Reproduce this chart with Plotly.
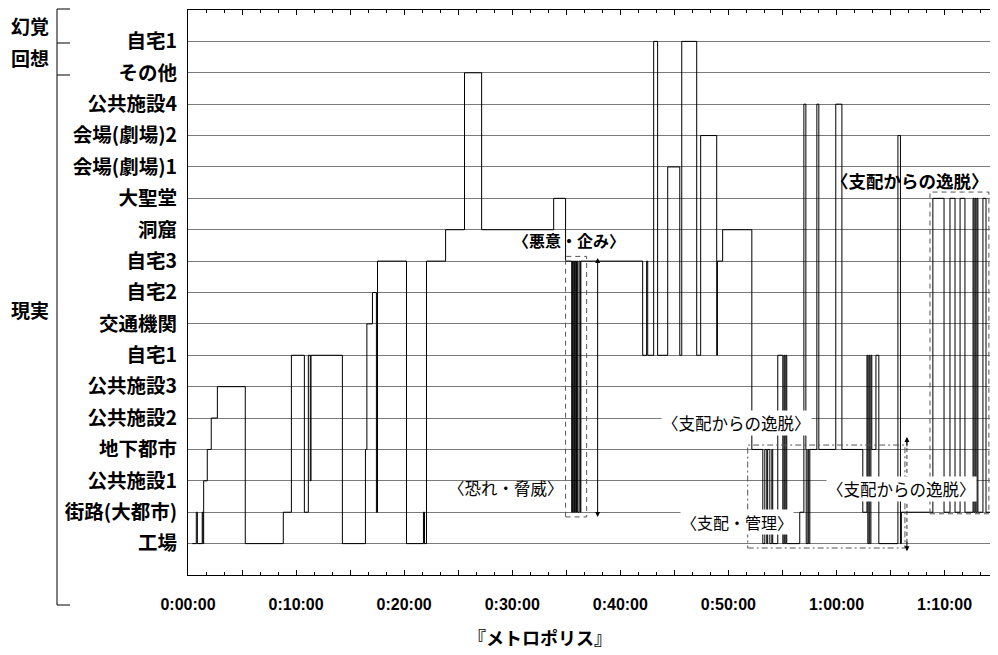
import plotly.graph_objects as go

# ---------------- data ----------------
categories = ["工場", "街路(大都市)", "公共施設1", "地下都市", "公共施設2", "公共施設3",
              "自宅1", "交通機関", "自宅2", "自宅3", "洞窟", "大聖堂",
              "会場(劇場)1", "会場(劇場)2", "公共施設4", "その他", "自宅1(回想)"]
category_labels = ["工場", "街路(大都市)", "公共施設1", "地下都市", "公共施設2", "公共施設3",
                   "自宅1", "交通機関", "自宅2", "自宅3", "洞窟", "大聖堂",
                   "会場(劇場)1", "会場(劇場)2", "公共施設4", "その他", "自宅1"]

scene_start = [
    "0:00:24", "0:00:46", "0:00:52", "0:01:19", "0:01:23", "0:01:27", "0:01:47", "0:02:09",
    "0:02:43", "0:05:18", "0:08:49", "0:09:34", "0:10:46", "0:11:08", "0:11:19", "0:11:23",
    "0:14:17", "0:16:25", "0:16:33", "0:17:04", "0:17:26", "0:17:32", "0:20:13", "0:21:47",
    "0:21:53", "0:22:04", "0:23:50", "0:25:35", "0:27:10", "0:33:50", "0:34:56",
    "0:35:30", "0:35:35", "0:35:41", "0:35:46", "0:35:52", "0:35:57", "0:36:03", "0:36:11",
    "0:36:18", "0:36:21",
    "0:42:04", "0:42:26", "0:42:32", "0:43:05", "0:43:27", "0:44:23", "0:45:30", "0:45:41",
    "0:47:04", "0:47:26", "0:48:55", "0:48:59", "0:49:28", "0:52:10",
    "0:53:11", "0:53:22", "0:53:33", "0:53:38", "0:53:50", "0:54:01", "0:54:06", "0:54:34",
    "0:55:02", "0:55:08", "0:55:13", "0:55:19", "0:55:24", "0:56:36", "0:56:59", "0:57:10",
    "0:57:12", "0:57:21", "0:57:26", "0:57:32", "0:58:11", "0:58:22", "0:59:56", "1:00:30",
    "1:02:26", "1:02:49", "1:02:54", "1:03:00", "1:03:05", "1:03:11", "1:03:16", "1:03:39",
    "1:03:55", "1:05:41", "1:05:55", "1:06:00", "1:08:55", "1:09:57", "1:10:30", "1:10:58",
    "1:11:26", "1:11:53", "1:12:38", "1:12:43", "1:12:49", "1:12:54", "1:13:00", "1:13:05",
    "1:13:33", "1:13:50",
]
scene_location = [
    "工場", "街路(大都市)", "工場", "街路(大都市)", "工場", "公共施設1", "地下都市", "公共施設2",
    "公共施設3", "工場", "街路(大都市)", "自宅1", "街路(大都市)", "自宅1", "公共施設1", "自宅1",
    "工場", "地下都市", "交通機関", "自宅2", "街路(大都市)", "自宅3", "工場", "街路(大都市)",
    "工場", "自宅3", "洞窟", "その他", "洞窟", "大聖堂", "自宅3",
    "街路(大都市)", "自宅3", "街路(大都市)", "自宅3", "街路(大都市)", "自宅3", "街路(大都市)", "自宅3",
    "街路(大都市)", "自宅3",
    "自宅1", "自宅3", "自宅1", "自宅1(回想)", "自宅1", "会場(劇場)1", "自宅1", "自宅1(回想)",
    "自宅1", "会場(劇場)2", "自宅1", "自宅3", "洞窟", "地下都市",
    "工場", "地下都市", "工場", "地下都市", "工場", "地下都市", "工場", "自宅1",
    "工場", "自宅1", "工場", "自宅1", "工場", "街路(大都市)", "公共施設4", "地下都市",
    "工場", "地下都市", "工場", "地下都市", "公共施設4", "地下都市", "公共施設4", "地下都市",
    "街路(大都市)", "自宅1", "工場", "自宅1", "工場", "自宅1", "地下都市", "自宅1",
    "工場", "会場(劇場)2", "工場", "街路(大都市)", "大聖堂", "街路(大都市)", "大聖堂", "街路(大都市)",
    "大聖堂", "街路(大都市)", "大聖堂", "街路(大都市)", "大聖堂", "街路(大都市)", "大聖堂", "街路(大都市)",
    "大聖堂", "街路(大都市)",
]
film_end = "1:14:51"

x_tick_times = ["0:00:00", "0:05:00", "0:10:00", "0:15:00", "0:20:00", "0:25:00", "0:30:00",
                "0:35:00", "0:40:00", "0:45:00", "0:50:00", "0:55:00", "1:00:00", "1:05:00",
                "1:10:00"]
x_tick_labels = ["0:00:00", "", "0:10:00", "", "0:20:00", "", "0:30:00", "", "0:40:00", "",
                 "0:50:00", "", "1:00:00", "", "1:10:00"]

group_labels = ["幻覚", "回想", "現実"]

theme_labels = ["〈悪意・企み〉", "〈恐れ・脅威〉", "〈支配からの逸脱〉", "〈支配・管理〉",
                "〈支配からの逸脱〉", "〈支配からの逸脱〉"]
title_text = "『メトロポリス』"


def sec(t):
    h, m, s = (int(v) for v in t.split(":"))
    return h * 3600 + m * 60 + s


level = {c: i + 1 for i, c in enumerate(categories)}
xs = [sec(t) for t in scene_start] + [sec(film_end)]
ys = [level[c] for c in scene_location] + [level[scene_location[-1]]]

JP = "Noto Sans CJK JP"

fig = go.Figure()
fig.add_trace(go.Scatter(
    x=xs, y=ys, mode="lines",
    line=dict(shape="hv", color="black", width=1),
    hoverinfo="skip", showlegend=False,
))

# ---------------- annotation boxes / arrows ----------------
box_dash = "5px,4px"
shapes = []
def box(t0, t1, l0, l1, dash):
    shapes.append(dict(type="rect", xref="x", yref="y", x0=sec(t0), x1=sec(t1), y0=l0, y1=l1,
                       line=dict(color="#555555", width=1, dash=dash), fillcolor="rgba(0,0,0,0)"))

box("0:34:56", "0:36:53", 1.85, 10.15, box_dash)
box("0:51:47", "1:06:20", 0.86, 4.14, "6px,3px,2px,3px")
box("1:08:39", "1:14:06", 1.95, 12.2, box_dash)

# dashed shaft of middle arrow
shapes.append(dict(type="line", xref="x", yref="y", x0=sec("1:06:31"), x1=sec("1:06:31"),
                   y0=0.8, y1=4.35, line=dict(color="#333333", width=1, dash="4px,3px")))

# left-side grouping brackets (paper coords, from page pixels)
def px2x(px):
    return (px - 188) / 809
def py2y(py):
    return (575 - py) / 565

bx = px2x(57)
shapes.append(dict(type="line", xref="paper", yref="paper", x0=bx, x1=bx, y0=py2y(9), y1=py2y(605),
                   line=dict(color="black", width=1)))
for py in (9, 43, 75, 605):
    shapes.append(dict(type="line", xref="paper", yref="paper", x0=bx, x1=px2x(70),
                       y0=py2y(py), y1=py2y(py), line=dict(color="black", width=1)))

annotations = []
# double-headed arrows
def darrow(t, l_top, l_bot, dashed=False):
    x = sec(t)
    if dashed:
        for tip, tail in ((l_top, l_top - 0.35), (l_bot, l_bot + 0.35)):
            annotations.append(dict(x=x, y=tip, ax=x, ay=tail, xref="x", yref="y", axref="x",
                                    ayref="y", text="", showarrow=True, arrowhead=2,
                                    arrowsize=1, arrowwidth=1, arrowcolor="black"))
    else:
        annotations.append(dict(x=x, y=l_top, ax=x, ay=l_bot, xref="x", yref="y", axref="x",
                                ayref="y", text="", showarrow=True, arrowhead=2,
                                arrowside="end+start", arrowsize=1, arrowwidth=1,
                                arrowcolor="black"))

darrow("0:37:54", 10.1, 1.8)
darrow("1:06:31", 4.4, 0.76, dashed=True)
darrow("1:14:45", 12.26, 1.75)

# theme labels
theme_pos = [("0:35:13", 10.67, True, False, 16),
             ("0:29:23", 2.77, False, False, 16.5),
             ("0:50:46", 4.84, False, True, 16.5),
             ("0:50:46", 1.69, False, True, 16),
             ("1:06:00", 2.74, False, True, 16.5),
             ("1:06:50", 12.58, True, False, 17.5)]
for txt, (t, l, bold, bg, fs) in zip(theme_labels, theme_pos):
    annotations.append(dict(x=sec(t), y=l, xref="x", yref="y", text=txt, showarrow=False,
                            font=dict(family=JP, size=fs, color="black",
                                      weight="bold" if bold else "normal"),
                            bgcolor="white" if bg else "rgba(0,0,0,0)", borderpad=0))

# group labels on far left
for txt, py in zip(group_labels, (25, 57, 310)):
    annotations.append(dict(x=px2x(30), y=py2y(py), xref="paper", yref="paper", text=txt,
                            showarrow=False, xanchor="center", yanchor="middle",
                            font=dict(family=JP, size=19, color="black", weight="bold")))

# bottom title
annotations.append(dict(x=px2x(540), y=py2y(637), xref="paper", yref="paper", text=title_text,
                        showarrow=False, xanchor="center", yanchor="middle",
                        font=dict(family=JP, size=18, color="black", weight="bold")))

# the page body has an 8px margin: size/offset the figure so the plot area lands at
# page x 188..997, y 10..575
fig.update_layout(
    width=990, height=647,
    margin=dict(l=180, r=1, t=2, b=80),
    paper_bgcolor="white", plot_bgcolor="white",
    shapes=shapes, annotations=annotations,
    showlegend=False,
)
fig.update_xaxes(
    range=[0, sec(film_end)],
    tickvals=[sec(t) for t in x_tick_times], ticktext=x_tick_labels,
    ticks="inside", ticklen=5, tickcolor="black", tickwidth=1,
    minor=dict(dtick=100, tick0=0, ticks="inside", ticklen=3, tickcolor="black", showgrid=False),
    showgrid=False, zeroline=False,
    showline=True, linecolor="black", linewidth=1, mirror="ticks",
    tickfont=dict(family="Liberation Sans", size=16, color="black", weight="bold"),
    ticklabelstandoff=15,
)
fig.update_yaxes(
    range=[0, 18],
    tickvals=list(range(1, len(categories) + 1)), ticktext=category_labels,
    ticks="", showgrid=True, gridcolor="#7a7a7a", gridwidth=1, zeroline=False,
    showline=True, linecolor="black", linewidth=1,
    tickfont=dict(family=JP, size=19.5, color="black", weight="bold"),
    ticklabelstandoff=6,
)

fig.write_html("out.html")
